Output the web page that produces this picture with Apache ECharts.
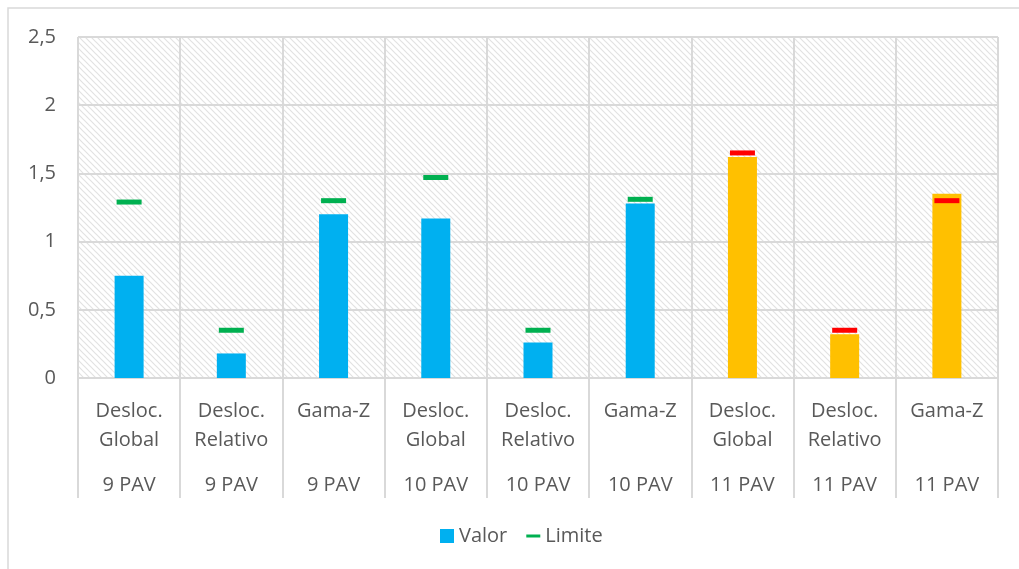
<!DOCTYPE html>
<html>
<head>
<meta charset="utf-8">
<script src="https://cdn.jsdelivr.net/npm/echarts@6/dist/echarts.min.js"></script>
<style>
  html, body { margin: 0; padding: 0; background: #fff; }
  #chart { width: 1019px; height: 569px; }
</style>
</head>
<body>
<div id="chart"></div>
<script>
// categories (first label row) and groups (second label row)
const categories = ['Desloc.\nGlobal', 'Desloc.\nRelativo', 'Gama-Z'];
const groups = ['9 PAV', '10 PAV', '11 PAV'];

// values, in order 9 PAV / 10 PAV / 11 PAV
const valor = [0.75, 0.18, 1.20, 1.17, 0.26, 1.28, 1.62, 0.32, 1.35];
const limite = [1.29, 0.35, 1.30, 1.47, 0.35, 1.31, 1.65, 0.35, 1.30];
const yTicks = [0, 0.5, 1, 1.5, 2, 2.5];

const blue = '#00B0F0', yellow = '#FFC000', green = '#00B050', red = '#FF0000';
const gridColor = '#d9d9d9', textColor = '#595959';
const font = '"Open Sans", "Noto Sans", sans-serif';

const catLabels = [];
const groupLabels = [];
groups.forEach(g => categories.forEach(c => { catLabels.push(c); groupLabels.push(g); }));

// 11 PAV values exceed limits -> yellow bars, red limit marks
const valorData = valor.map((v, i) => ({
  value: v,
  itemStyle: { color: groupLabels[i] === '11 PAV' ? yellow : blue }
}));
const limiteData = limite.map((v, i) => ({
  value: v,
  itemStyle: { color: groupLabels[i] === '11 PAV' ? red : green }
}));

// diagonal hatch for the plot background
const hatch = document.createElement('canvas');
hatch.width = 6;
hatch.height = 6;
const ctx = hatch.getContext('2d');
ctx.fillStyle = '#ffffff';
ctx.fillRect(0, 0, 6, 6);
ctx.strokeStyle = '#e2e2e2';
ctx.lineWidth = 1.2;
ctx.beginPath();
ctx.moveTo(-1, -1); ctx.lineTo(7, 7);
ctx.moveTo(-7, -1); ctx.lineTo(1, 7);
ctx.moveTo(5, -1); ctx.lineTo(13, 7);
ctx.stroke();

const myChart = echarts.init(document.getElementById('chart'));
const option = {
  animation: false,
  backgroundColor: '#fff',
  textStyle: { fontFamily: font },
  graphic: [{
    type: 'rect',
    shape: { x: 8, y: 8, width: 1030, height: 580 },
    style: { fill: 'none', stroke: gridColor, lineWidth: 1.5 },
    silent: true
  }],
  grid: {
    left: 78, right: 21, top: 37, bottom: 191,
    show: true,
    borderWidth: 0,
    backgroundColor: { image: hatch, repeat: 'repeat' }
  },
  legend: {
    top: 521,
    left: 435,
    itemWidth: 14,
    itemHeight: 14,
    itemGap: 19,
    textStyle: { fontSize: 20, color: textColor, fontFamily: font },
    data: [
      { name: 'Valor', icon: 'rect' },
      { name: 'Limite', icon: 'path://M0,0h14v3h-14z' }
    ]
  },
  xAxis: [{
    type: 'category',
    data: catLabels,
    position: 'bottom',
    axisLine: { show: true, lineStyle: { color: gridColor, width: 2 } },
    axisTick: { show: true, length: 120, interval: 0, lineStyle: { color: gridColor, width: 2 } },
    splitLine: { show: true, interval: 0, lineStyle: { color: gridColor, width: 2 } },
    axisLabel: {
      interval: 0, margin: 19, fontSize: 20, lineHeight: 29,
      color: textColor, fontFamily: font
    }
  }, {
    type: 'category',
    data: groupLabels,
    position: 'bottom',
    offset: 93,
    axisLine: { show: false },
    axisTick: { show: false },
    axisLabel: {
      interval: 0, margin: 0, fontSize: 20, lineHeight: 29,
      color: textColor, fontFamily: font
    }
  }],
  yAxis: {
    type: 'value',
    min: yTicks[0],
    max: yTicks[yTicks.length - 1],
    interval: 0.5,
    axisLine: { show: false },
    axisTick: { show: false },
    splitLine: { show: true, lineStyle: { color: gridColor, width: 2 } },
    axisLabel: {
      margin: 22, fontSize: 20, color: textColor, fontFamily: font,
      formatter: v => String(v).replace('.', ',')
    }
  },
  series: [{
    name: 'Valor',
    type: 'bar',
    barWidth: 29,
    itemStyle: { color: blue },
    data: valorData,
    z: 3
  }, {
    name: 'Limite',
    type: 'scatter',
    symbol: 'rect',
    symbolSize: [25, 5],
    itemStyle: { color: green, opacity: 1 },
    data: limiteData,
    z: 4
  }]
};
option && myChart.setOption(option);
</script>
</body>
</html>
